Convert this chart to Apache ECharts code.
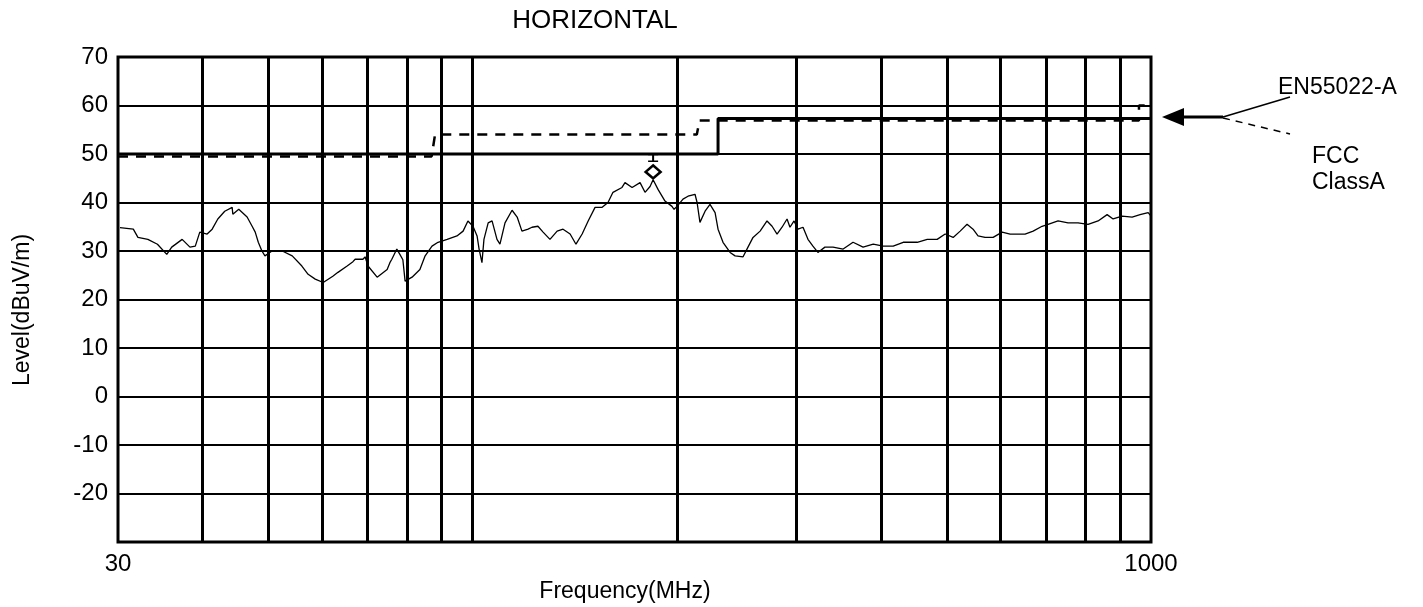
<!DOCTYPE html>
<html>
<head>
<meta charset="utf-8">
<script src="https://cdn.jsdelivr.net/npm/echarts@6/dist/echarts.min.js"></script>
<style>
html,body{margin:0;padding:0;background:#fff;}
#chart{width:1423px;height:607px;}
</style>
</head>
<body>
<div id="chart"></div>
<script>
// ---- data ----
const traceFreq = [30.2,31.6,32.1,33.2,34.3,35.4,36.0,37.3,38.3,39.0,39.6,40.6,41.3,42.1,43.1,44.2,44.3,45.2,46.5,47.3,47.8,48.3,48.9,49.4,50.6,52.4,54.2,56.0,57.2,58.6,60.2,62.2,63.3,65.3,66.6,67.1,68.9,69.4,70.1,72.3,74.8,75.5,76.0,77.3,78.1,78.9,79.5,81.4,83.6,85.1,87.1,88.9,91.7,94.8,96.8,98.4,100.1,101.5,102.2,103.2,103.9,105.4,106.8,108.6,109.7,111.6,114.3,116.3,118.2,120.7,122.3,124.8,127.0,130.0,133.2,135.9,139.2,142.0,145.0,148.0,151.5,155.2,158.3,161.0,166.0,167.7,171.8,176.5,179.5,182.6,184.5,187.6,192.1,196.7,198.1,200.1,204.2,207.7,212.7,214.2,216.3,220.1,223.8,227.7,230.0,233.9,239.6,243.7,245.3,250.4,254.6,259.0,265.3,271.6,276.3,281.0,285.8,290.7,293.6,297.7,301.7,306.9,312.1,317.4,322.8,330.6,339.8,351.7,363.7,376.3,389.5,402.9,416.8,431.2,452.2,467.8,483.9,497.2,510.9,523.2,535.6,546.6,555.9,569.3,585.1,603.3,619.9,636.8,652.2,670.3,690.9,705.1,729.4,754.6,780.7,807.7,835.6,861.6,879.3,906.6,937.9,963.6,990.4,1000];
const traceLevel = [34.8,34.5,32.8,32.4,31.4,29.3,30.8,32.4,30.8,31.0,33.9,33.5,34.5,36.6,38.2,39.0,37.6,38.6,37.0,35.1,33.9,31.8,30.0,29.0,30.0,30.0,29.0,26.9,25.2,24.2,23.5,24.8,25.6,26.9,27.8,28.3,28.3,28.8,26.9,24.6,26.2,27.6,28.3,30.4,29.3,28.2,23.8,24.6,26.2,29.0,31.0,31.8,32.4,33.1,34.1,36.2,35.1,33.1,30.4,27.6,32.4,35.8,36.2,32.4,31.4,35.8,38.4,37.0,34.1,34.5,34.9,35.1,33.9,32.4,34.1,34.5,33.5,31.4,33.5,36.2,39.0,39.0,40.0,42.1,43.1,44.1,43.1,44.1,42.1,43.3,44.7,42.7,40.3,39.2,38.6,39.2,40.7,41.3,41.7,40.0,35.9,38.2,39.6,37.9,34.5,31.8,29.7,29.0,29.3,28.8,30.8,32.8,34.1,36.2,35.1,33.5,34.9,36.6,34.9,36.2,34.5,34.9,32.4,31.0,29.7,30.8,30.8,30.4,31.8,30.8,31.4,31.0,31.0,31.8,31.8,32.4,32.4,33.5,32.8,34.1,35.5,34.5,33.1,32.8,32.8,33.9,33.5,33.5,33.5,34.1,35.1,35.5,36.2,35.8,35.8,35.5,36.2,37.5,36.6,37.2,37.0,37.5,37.9,37.2];

const enFreq  = [30, 230, 230, 1000];
const enLevel = [50, 50, 57.3, 57.3];

const fccFreq  = [30, 87, 88, 214, 216, 960, 960, 1000];
const fccLevel = [49.5, 49.5, 54, 54, 56.9, 56.9, 60, 60];

const peakFreq = [184.5];
const peakLevel = [46.3];
const qpFreq = [184.5];
const qpLevel = [49.2];

const gridFreqs = [40,50,60,70,80,90,100,200,300,400,500,600,700,800,900];
const xTickLabels = [30, 1000];

const titleText = 'HORIZONTAL';
const xName = 'Frequency(MHz)';
const yName = 'Level(dBuV/m)';
const enName = 'EN55022-A';
const fccName = 'FCC\nClassA';

// ---- chart ----
const FONT = '"Liberation Sans", Arial, sans-serif';
const zip = (a, b) => a.map((v, i) => [v, b[i]]);

const chart = echarts.init(document.getElementById('chart'), null, {renderer: 'canvas'});

chart.setOption({
  animation: false,
  backgroundColor: '#fff',
  grid: {left: 118, right: 272, top: 57, bottom: 65, show: true, borderColor: '#000', borderWidth: 3, backgroundColor: 'transparent'},
  xAxis: {
    type: 'log', logBase: 10, min: 30, max: 1000,
    axisLine: {show: false}, axisTick: {show: false},
    splitLine: {show: false},
    axisLabel: {
      show: true, color: '#000', fontSize: 24, fontFamily: FONT, margin: 10,
      showMinLabel: true, showMaxLabel: true,
      formatter: function (v) {
        for (const t of xTickLabels) { if (Math.abs(v - t) / t < 0.01) return String(t); }
        return '';
      }
    }
  },
  yAxis: {
    type: 'value', min: -30, max: 70, interval: 10,
    axisLine: {show: false}, axisTick: {show: false},
    splitLine: {show: true, lineStyle: {color: '#000', width: 2}},
    axisLabel: {color: '#000', fontSize: 24, fontFamily: FONT, margin: 10,
      formatter: function (v) { return v === -30 ? '' : String(v); }}
  },
  graphic: [
    {type: 'text', x: 595, y: 8, style: {text: titleText, fontSize: 26, fontFamily: FONT, fill: '#000', textAlign: 'center', textVerticalAlign: 'top'}},
    {type: 'text', x: 625, y: 592, style: {text: xName, fontSize: 23, fontFamily: FONT, fill: '#000', textAlign: 'center', textVerticalAlign: 'middle'}},
    {type: 'text', x: 23, y: 310, rotation: Math.PI / 2, style: {text: yName, fontSize: 23, fontFamily: FONT, fill: '#000', textAlign: 'center', textVerticalAlign: 'middle'}},
    {type: 'text', x: 1278, y: 88, style: {text: enName, fontSize: 23, fontFamily: FONT, fill: '#000', textAlign: 'left', textVerticalAlign: 'middle'}},
    {type: 'text', x: 1312, y: 144, style: {text: fccName, fontSize: 23, fontFamily: FONT, fill: '#000', textAlign: 'left', textVerticalAlign: 'top', lineHeight: 26}},
    {type: 'line', shape: {x1: 1178, y1: 117, x2: 1223, y2: 117}, style: {stroke: '#000', lineWidth: 3}},
    {type: 'polygon', shape: {points: [[1162, 117], [1184, 108], [1184, 126]]}, style: {fill: '#000'}},
    {type: 'line', shape: {x1: 1223, y1: 117, x2: 1290, y2: 97}, style: {stroke: '#000', lineWidth: 1.5}},
    {type: 'line', shape: {x1: 1223, y1: 118, x2: 1290, y2: 134}, style: {stroke: '#000', lineWidth: 1.5, lineDash: [7, 6]}}
  ],
  series: [
    {
      type: 'line', data: [], silent: true, z: 1,
      markLine: {
        silent: true, symbol: 'none', animation: false,
        label: {show: false},
        lineStyle: {color: '#000', width: 3, type: 'solid'},
        data: gridFreqs.map(f => ({xAxis: f}))
      }
    },
    {
      name: enName, type: 'line', data: zip(enFreq, enLevel), showSymbol: false, z: 3,
      lineStyle: {color: '#000', width: 3, type: 'solid'}
    },
    {
      name: 'FCC ClassA', type: 'line', data: zip(fccFreq, fccLevel), showSymbol: false, z: 4,
      lineStyle: {color: '#000', width: 2.5, type: [10, 8]}
    },
    {
      name: 'trace', type: 'line', data: zip(traceFreq, traceLevel), showSymbol: false, z: 5,
      lineStyle: {color: '#000', width: 1.3}
    },
    {
      name: 'peak', type: 'scatter', data: zip(peakFreq, peakLevel), z: 6,
      symbol: 'diamond', symbolSize: [15, 13],
      itemStyle: {color: '#fff', borderColor: '#000', borderWidth: 2.5, opacity: 1}
    },
    {
      name: 'qp', type: 'scatter', data: zip(qpFreq, qpLevel), z: 6,
      symbol: 'path://M0,0h10v2h-4v8h4v2h-10v-2h4v-8h-4z', symbolSize: [10, 8],
      itemStyle: {color: '#000', opacity: 1}
    }
  ]
});
</script>
</body>
</html>
